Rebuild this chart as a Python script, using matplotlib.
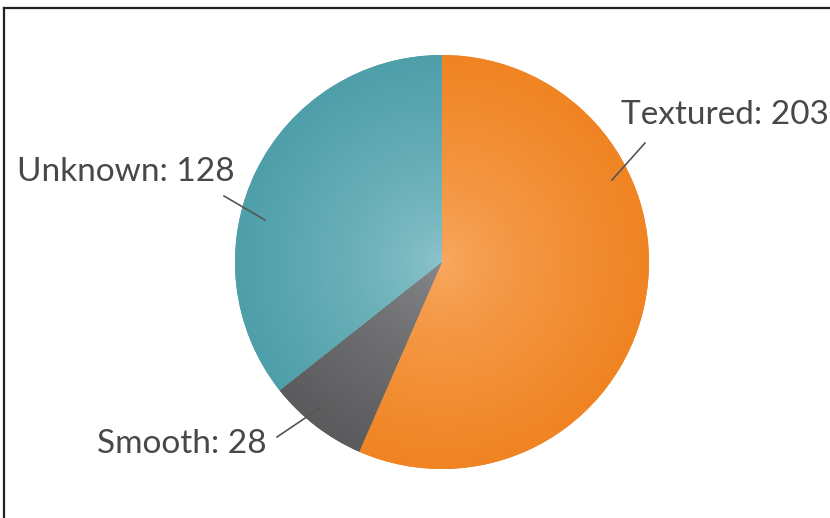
import numpy as np
import matplotlib
matplotlib.use("Agg")
import matplotlib.pyplot as plt
from matplotlib.colors import to_rgb
from matplotlib.lines import Line2D

plt.rcParams["font.family"] = ["Lato", "DejaVu Sans"]

# data
categories = ["Textured", "Smooth", "Unknown"]
counts = [203, 28, 128]
edge_colors = ["#F08423", "#5B5B5D", "#4E9FAA"]
center_colors = ["#F8AA64", "#8A8B8E", "#8FC5CC"]

W, H = 830, 518
fig = plt.figure(figsize=(W / 100, H / 100), dpi=100)
ax = fig.add_axes([0, 0, 1, 1])
ax.set_xlim(0, W)
ax.set_ylim(0, H)
ax.set_aspect("equal")
ax.axis("off")

cx, cy, R = 442, 256, 207
wedges, _ = ax.pie(counts, startangle=90, counterclock=False,
                   center=(cx, cy), radius=R, colors=edge_colors,
                   wedgeprops={"linewidth": 0})
ax.set_xlim(0, W)
ax.set_ylim(0, H)

# radial shading inside each wedge
n = 500
xs = np.linspace(cx - R, cx + R, n)
ys = np.linspace(cy - R, cy + R, n)
X, Y = np.meshgrid(xs, ys)
t = np.clip(np.hypot(X - cx, Y - cy) / R, 0, 1) ** 0.7
for w, c0, c1 in zip(wedges, center_colors, edge_colors):
    a, b = np.array(to_rgb(c0)), np.array(to_rgb(c1))
    img = a[None, None, :] * (1 - t[..., None]) + b[None, None, :] * t[..., None]
    im = ax.imshow(img, extent=(cx - R, cx + R, cy - R, cy + R),
                   origin="lower", zorder=2, interpolation="bilinear")
    im.set_clip_path(w)

# labels with leader lines
label_pos = [(621, 403, "left"), (97, 74, "left"), (17, 346, "left")]
leaders = [((612, 338), (645, 375)), ((320, 110), (277, 81)), ((265, 298), (224, 322))]
for name, val, (tx, ty, ha), (p0, p1) in zip(categories, counts, label_pos, leaders):
    ax.plot([p0[0], p1[0]], [p0[1], p1[1]], color="#555555", lw=1.2, zorder=3)
    ax.text(tx, ty, f"{name}: {val}", ha=ha, va="center", fontsize=24,
            color="#484848", zorder=4, clip_on=False)

# frame (left and top edges)
fig.add_artist(Line2D([4 / W, 4 / W], [0, 1 - 8 / H], transform=fig.transFigure,
                      color="#222222", lw=1.6))
fig.add_artist(Line2D([4 / W, 1], [1 - 8 / H, 1 - 8 / H], transform=fig.transFigure,
                      color="#222222", lw=1.6))

fig.savefig("out.png", dpi=100)
